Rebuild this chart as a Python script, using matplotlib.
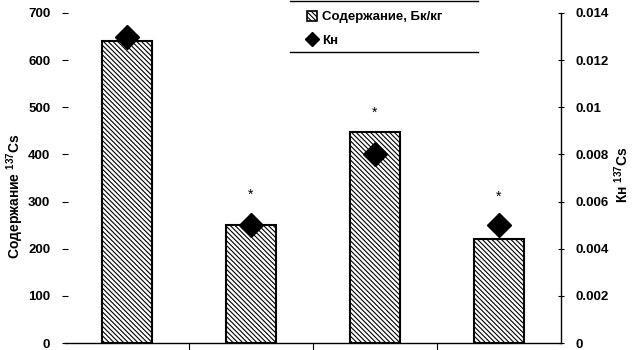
import numpy as np
import matplotlib.pyplot as plt
from matplotlib.patches import Patch
from matplotlib.lines import Line2D

# данные
sites = ["1", "2", "3", "4"]
content = [640, 250, 447, 220]          # Содержание 137Cs, Бк/кг
kn = [0.013, 0.005, 0.008, 0.005]       # Кн 137Cs
star_y = [None, 314, 488, 310]          # положение звездочек (в ед. левой оси)
left_ticks = [0, 100, 200, 300, 400, 500, 600, 700]
right_ticks = [0, 0.002, 0.004, 0.006, 0.008, 0.01, 0.012, 0.014]
right_labels = ["0", "0.002", "0.004", "0.006", "0.008", "0.01", "0.012", "0.014"]

plt.rcParams["font.family"] = ["Liberation Sans", "DejaVu Sans"]
plt.rcParams["font.weight"] = "bold"
plt.rcParams["hatch.linewidth"] = 0.8

HATCH = "\\\\\\\\\\\\\\"

fig = plt.figure(figsize=(6.36, 3.5), dpi=100)
ax = fig.add_axes([0.102, 0.02, 0.78, 0.943])
x = np.arange(len(sites))

ax.bar(x, content, width=0.4, color="white", edgecolor="black", linewidth=1.5,
       hatch=HATCH, zorder=2)
for xi, sy in zip(x, star_y):
    if sy is not None:
        ax.text(xi, sy, "*", ha="center", va="center", fontsize=10, fontweight="normal")

ax.set_xlim(-0.5, 3.5)
ax.set_ylim(0, 700)
ax.set_yticks(left_ticks)
ax.set_yticklabels([str(t) for t in left_ticks], fontsize=9.5, fontweight="bold")
ax.set_xticks([0.5, 1.5, 2.5])
ax.set_xticklabels([])
ax.tick_params(axis="x", direction="out", length=6, width=0.8)
ax.tick_params(axis="y", direction="inout", length=5, width=0.8, pad=8)
for s in ["top", "left", "right"]:
    ax.spines[s].set_visible(False)
ax.spines["bottom"].set_linewidth(1.0)
ax.set_ylabel("Содержание $\\mathregular{^{137}}$Cs", fontsize=10, fontweight="bold")
ax.yaxis.set_label_coords(-0.078, 0.445)

ax2 = ax.twinx()
ax2.plot(x, kn, linestyle="none", marker="D", markersize=12.5, color="black", zorder=3)
ax2.set_ylim(0, 0.014)
ax2.set_yticks(right_ticks)
ax2.set_yticklabels(right_labels, fontsize=9.5, fontweight="bold")
ax2.tick_params(axis="y", direction="inout", length=5, width=0.8, pad=8)
for s in ["top", "left", "bottom"]:
    ax2.spines[s].set_visible(False)
ax2.spines["right"].set_linewidth(1.0)
ax2.set_ylabel("Кн $\\mathregular{^{137}}$Cs", fontsize=10, fontweight="bold")
ax2.yaxis.set_label_coords(1.103, 0.51)

# легенда
handles = [Patch(facecolor="white", edgecolor="black", hatch=HATCH, linewidth=1.2),
           Line2D([], [], linestyle="none", marker="D", markersize=7, color="black")]
fig.legend(handles, ["Содержание, Бк/кг", "Кн"], loc="upper left",
           bbox_to_anchor=(0.474, 0.985), frameon=False, prop={"size": 9.5, "weight": "bold"},
           handlelength=0.8, handleheight=0.8, handletextpad=0.35, labelspacing=0.85,
           borderaxespad=0)
fig.add_artist(Line2D([290 / 636, 478 / 636], [0.997, 0.997], color="black", linewidth=1))
fig.add_artist(Line2D([290 / 636, 478 / 636], [1 - 52 / 350, 1 - 52 / 350], color="black", linewidth=1))

fig.savefig("out.png", dpi=100)
